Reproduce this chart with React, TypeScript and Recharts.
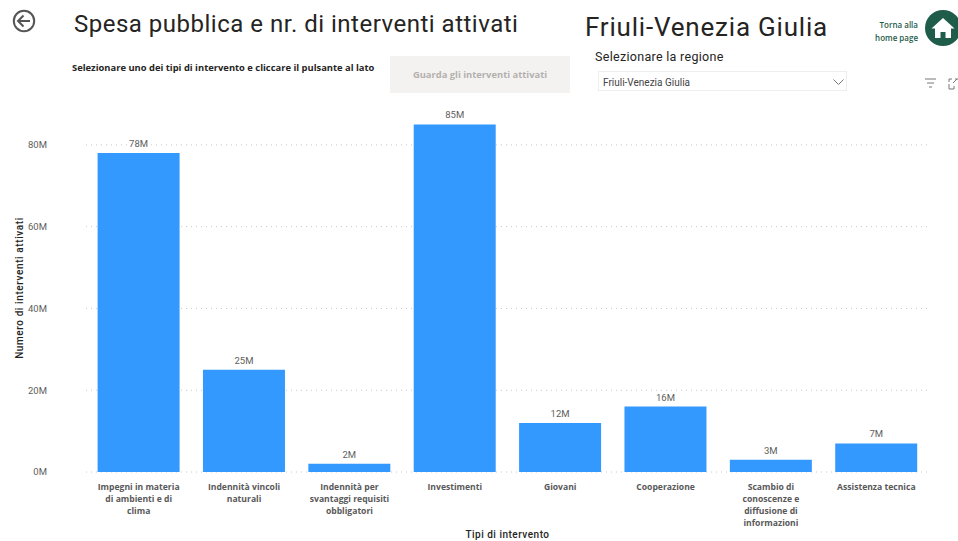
import React from 'react';
import { BarChart, Bar, XAxis, YAxis, CartesianGrid, LabelList, Label } from 'recharts';

const categories = [
  'Impegni in materia di ambienti e di clima',
  'Indennità vincoli naturali',
  'Indennità per svantaggi requisiti obbligatori',
  'Investimenti',
  'Giovani',
  'Cooperazione',
  'Scambio di conoscenze e diffusione di informazioni',
  'Assistenza tecnica',
];
const tickLines = [
  ['Impegni in materia', 'di ambienti e di', 'clima'],
  ['Indennità vincoli', 'naturali'],
  ['Indennità per', 'svantaggi requisiti', 'obbligatori'],
  ['Investimenti'],
  ['Giovani'],
  ['Cooperazione'],
  ['Scambio di', 'conoscenze e', 'diffusione di', 'informazioni'],
  ['Assistenza tecnica'],
];
const spesa = [78, 25, 2, 85, 12, 16, 3, 7];
const yTicks = [0, 20, 40, 60, 80];

const data = categories.map((name, i) => ({ name, spesa: spesa[i] }));

const din = 'Roboto, sans-serif';
const segoe = '"Open Sans", sans-serif';

const CategoryTick = ({ x, y, index }: any) => (
  <text x={x} y={y} textAnchor="middle" fontFamily={segoe} fontSize={8.6} fontWeight={700} fill="#595959">
    {tickLines[index].map((line, i) => (
      <tspan key={line} x={x} dy={i === 0 ? 0 : 12}>{line}</tspan>
    ))}
  </text>
);

const box = (left: number, top: number, style: React.CSSProperties = {}): React.CSSProperties => ({
  position: 'absolute',
  left,
  top,
  whiteSpace: 'nowrap',
  ...style,
});

export default function App() {
  return (
    <div style={{ position: 'fixed', left: 0, top: 0, width: 958, height: 541, background: '#fff', overflow: 'hidden' }}>
      <BarChart width={958} height={541} data={data} margin={{ top: 104, right: 29, bottom: 0, left: 0 }} barCategoryGap="11%">
        <CartesianGrid vertical={false} stroke="#c8c8c8" strokeDasharray="1 4" horizontalValues={yTicks} />
        <XAxis
          dataKey="name"
          interval={0}
          height={69}
          axisLine={false}
          tickLine={false}
          tickSize={0}
          tickMargin={18}
          tick={<CategoryTick />}
        >
          <Label value="Tipi di intervento" position="insideBottom" offset={3} fontFamily={din} fontSize={10} fontWeight={500} letterSpacing={0.5} fill="#252423" />
        </XAxis>
        <YAxis
          width={86}
          domain={[0, 90]}
          ticks={yTicks}
          axisLine={false}
          tickLine={false}
          tickSize={0}
          tickMargin={39}
          tickFormatter={(v: number) => `${v}M`}
          tick={{ fontFamily: din, fontSize: 9.5, fill: '#605e5c' }}
        >
          <Label value="Numero di interventi attivati" angle={-90} position="insideLeft" offset={19} textAnchor="middle" fontFamily={din} fontSize={10} fontWeight={500} letterSpacing={0.6} fill="#252423" />
        </YAxis>
        <Bar dataKey="spesa" fill="#3399ff" isAnimationActive={false}>
          <LabelList dataKey="spesa" position="top" offset={6} formatter={(v: number) => `${v}M`} fontFamily={din} fontSize={9.5} fill="#605e5c" />
        </Bar>
      </BarChart>

      <svg style={box(12, 9)} width={24} height={24} viewBox="0 0 24 24" fill="none" stroke="#555" strokeWidth={2}>
        <circle cx={12} cy={12} r={10.2} />
        <path d="M18 12H6M11.5 6.5L6 12l5.5 5.5" />
      </svg>
      <div style={box(74, 10, { fontFamily: din, fontSize: 24, letterSpacing: 0.5, color: '#252423' })}>
        Spesa pubblica e nr. di interventi attivati
      </div>
      <div style={box(72, 61, { fontFamily: segoe, fontSize: 9.4, fontWeight: 700, color: '#252423' })}>
        Selezionare uno dei tipi di intervento e cliccare il pulsante al lato
      </div>
      <div style={box(390, 56, { width: 180, height: 37, background: '#f3f2f1', color: '#b3b0ad', fontFamily: segoe, fontSize: 9.4, fontWeight: 700, textAlign: 'center', lineHeight: '38px' })}>
        Guarda gli interventi attivati
      </div>
      <div style={box(585, 12, { fontFamily: din, fontSize: 26, letterSpacing: 0.8, color: '#252423' })}>
        Friuli-Venezia Giulia
      </div>
      <div style={box(595, 49, { fontFamily: din, fontSize: 12.5, letterSpacing: 0.3, color: '#252423' })}>
        Selezionare la regione
      </div>
      <div style={box(598, 71, { width: 249, height: 20, border: '1px solid #eeeeee', fontFamily: din, fontSize: 10, color: '#444', lineHeight: '22px', paddingLeft: 4, boxSizing: 'border-box' })}>
        Friuli-Venezia Giulia
      </div>
      <svg style={box(832, 78)} width={13} height={9} fill="none" stroke="#777" strokeWidth={1}>
        <path d="M1.5 1.5L6.5 6.5L11.5 1.5" />
      </svg>
      <div style={box(870, 18, { width: 48, fontFamily: segoe, fontSize: 8, fontWeight: 600, color: '#1f5c4a', textAlign: 'right', lineHeight: '13px' })}>
        Torna alla<br />home page
      </div>
      <svg style={box(925, 10)} width={36} height={36} viewBox="0 0 36 36">
        <circle cx={18} cy={18} r={18} fill="#1f5c4a" />
        <path d="M18 8L6.5 18.5h3.5V28h5.5v-6h5v6H26v-9.5h3.5z" fill="#fff" />
      </svg>
      <svg style={box(923, 76)} width={35} height={14} fill="none" stroke="#777" strokeWidth={1}>
        <path d="M2 3h11M4 7h7M6 11h3" />
        <path d="M26 6V3h3M26 8v5h5v-3M32 3h3M34 3l-4 4" />
      </svg>
    </div>
  );
}
